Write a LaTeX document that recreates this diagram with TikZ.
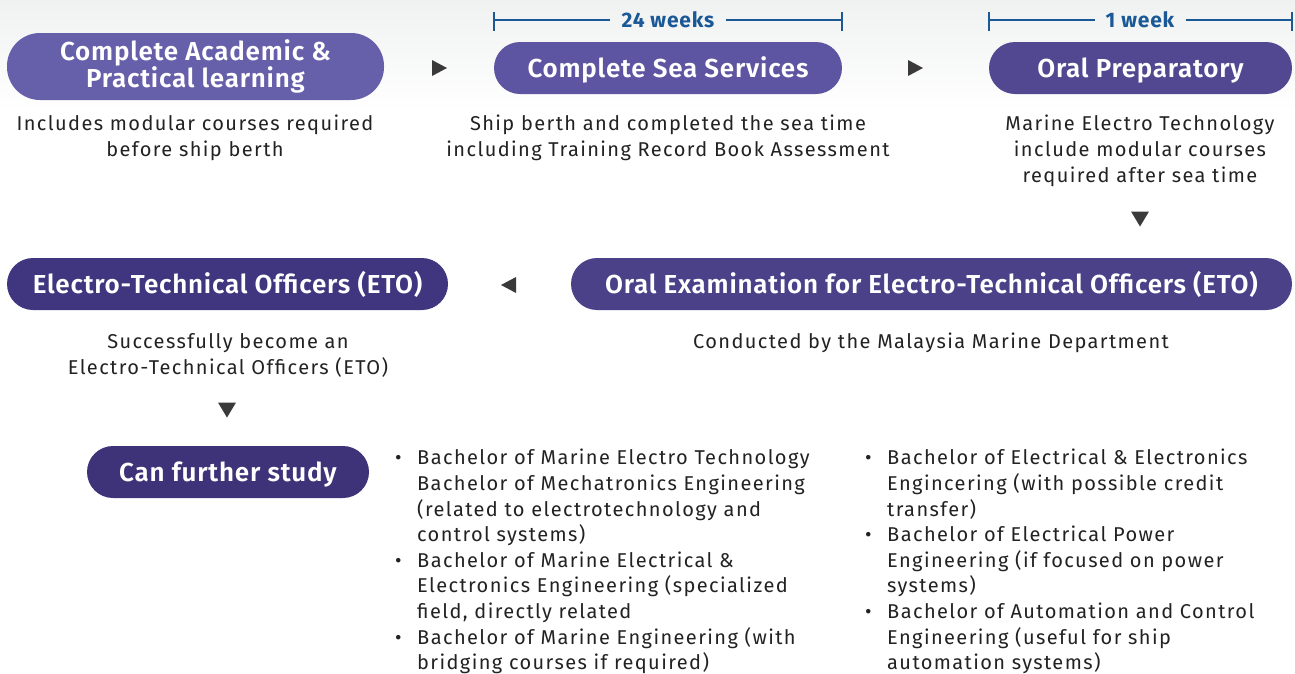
\documentclass[tikz,border=0pt]{standalone}
\usepackage{fontspec}
\setmainfont{Fira Sans}[LetterSpace=7]
\newfontfamily\pillfont{Fira Sans SemiBold}[LetterSpace=3]
\newfontfamily\wkfont{Fira Sans Bold}[LetterSpace=4]
\usetikzlibrary{calc}
\definecolor{pA}{HTML}{6660AA}
\definecolor{pB}{HTML}{5D55A1}
\definecolor{pC}{HTML}{524891}
\definecolor{pD}{HTML}{40367F}
\definecolor{pE}{HTML}{4A4189}
\definecolor{pF}{HTML}{3E3279}
\definecolor{wk}{HTML}{1A5896}
\definecolor{txt}{HTML}{222222}
\definecolor{tri}{HTML}{3A3A3A}
\definecolor{bgtop}{HTML}{F0F1F1}
\tikzset{
  pill/.style={rounded corners=26pt, text=white, font=\pillfont\fontsize{26}{26}\selectfont, align=center, inner sep=0pt, minimum height=52pt},
  oneline/.style={text height=20pt, text depth=2pt},
  desc/.style={text=txt, font=\fontsize{20}{26}\selectfont, align=center, inner sep=0pt},
  blist/.style={text=txt, font=\fontsize{20}{25.6}\selectfont, align=left, inner sep=0pt, anchor=north west},
  wklabel/.style={text=wk, font=\wkfont\fontsize{21}{22}\selectfont, inner sep=0pt},
  wkline/.style={draw=wk, line width=1.4pt},
  trimark/.style={fill=tri},
}
\newcommand{\bul}{\makebox[22pt][l]{•}}
\newcommand{\ind}{\hspace*{22pt}}
\begin{document}
\begin{tikzpicture}[x=1pt,y=-1pt]
\useasboundingbox (0,0) rectangle (1295,673);
\fill[white] (0,0) rectangle (1295,673);
\shade[top color=bgtop, bottom color=white] (0,0) rectangle (1295,110);

% pills
\node[pill, fill=pA, rounded corners=33pt, minimum width=377pt, minimum height=67pt] (p1) at (195.5,66.5) {Complete Academic \&\\Practical learning};
\node[pill, oneline, fill=pB, minimum width=348pt] (p2) at (668,68) {Complete Sea Services};
\node[pill, oneline, fill=pC, minimum width=303pt] (p3) at (1140.5,68) {Oral Preparatory};
\node[pill, oneline, fill=pD, minimum width=441pt] (p4) at (227.5,284) {Electro-Technical Officers (ETO)};
\node[pill, oneline, fill=pE, minimum width=721pt] (p5) at (931.5,284) {Oral Examination for Electro-Technical Officers (ETO)};
\node[pill, oneline, fill=pF, minimum width=282pt] (p6) at (228,472) {Can further study};

% week brackets
\node[wklabel] (w1) at (668,19.5) {24 weeks};
\draw[wkline] (494,20) -- ([xshift=-11pt]w1.west |- 0,20);
\draw[wkline] ([xshift=11pt]w1.east |- 0,20) -- (842,20);
\draw[wkline] (494,12) -- (494,31);
\draw[wkline] (842,12) -- (842,31);
\node[wklabel] (w2) at (1140,19.5) {1 week};
\draw[wkline] (989,20) -- ([xshift=-11pt]w2.west |- 0,20);
\draw[wkline] ([xshift=11pt]w2.east |- 0,20) -- (1292,20);
\draw[wkline] (989,12) -- (989,31);
\draw[wkline] (1292,12) -- (1292,31);

% descriptions
\node[desc, anchor=north] (d1) at (195,115) {Includes modular courses required\\before ship berth};
\node[desc, anchor=north] (d2) at (668,115) {Ship berth and completed the sea time\\including Training Record Book Assessment};
\node[desc, anchor=north] (d3) at (1140,115) {Marine Electro Technology\\include modular courses\\required after sea time};
\node[desc, anchor=north] (d4) at (228,333) {Successfully become an\\Electro-Technical Officers (ETO)};
\node[desc, anchor=north] (d5) at (931,333) {Conducted by the Malaysia Marine Department};

% triangle markers
\coordinate (t1) at (439,68);
\coordinate (t2) at (915,68);
\coordinate (t3) at (1140,219);
\coordinate (t4) at (509,285);
\coordinate (t5) at (227,410);
\fill[trimark] ($(t1)+(-7,-8)$) -- ($(t1)+(8,0)$) -- ($(t1)+(-7,8)$) -- cycle;
\fill[trimark] ($(t2)+(-7,-8)$) -- ($(t2)+(8,0)$) -- ($(t2)+(-7,8)$) -- cycle;
\fill[trimark] ($(t3)+(-9,-7.5)$) -- ($(t3)+(9,-7.5)$) -- ($(t3)+(0,7.5)$) -- cycle;
\fill[trimark] ($(t4)+(7,-8)$) -- ($(t4)+(-8,0)$) -- ($(t4)+(7,8)$) -- cycle;
\fill[trimark] ($(t5)+(-9,-7.5)$) -- ($(t5)+(9,-7.5)$) -- ($(t5)+(0,7.5)$) -- cycle;

% bullet lists
\node[blist] (l1) at (395,449) {\bul Bachelor of Marine Electro Technology\\
\ind Bachelor of Mechatronics Engineering\\
\ind (related to electrotechnology and\\
\ind control systems)\\
\bul Bachelor of Marine Electrical \&\\
\ind Electronics Engineering (specialized\\
\ind field, directly related\\
\bul Bachelor of Marine Engineering (with\\
\ind bridging courses if required)};
\node[blist] (l2) at (865,449) {\bul Bachelor of Electrical \& Electronics\\
\ind Engincering (with possible credit\\
\ind transfer)\\
\bul Bachelor of Electrical Power\\
\ind Engineering (if focused on power\\
\ind systems)\\
\bul Bachelor of Automation and Control\\
\ind Engineering (useful for ship\\
\ind automation systems)};
\end{tikzpicture}
\end{document}
